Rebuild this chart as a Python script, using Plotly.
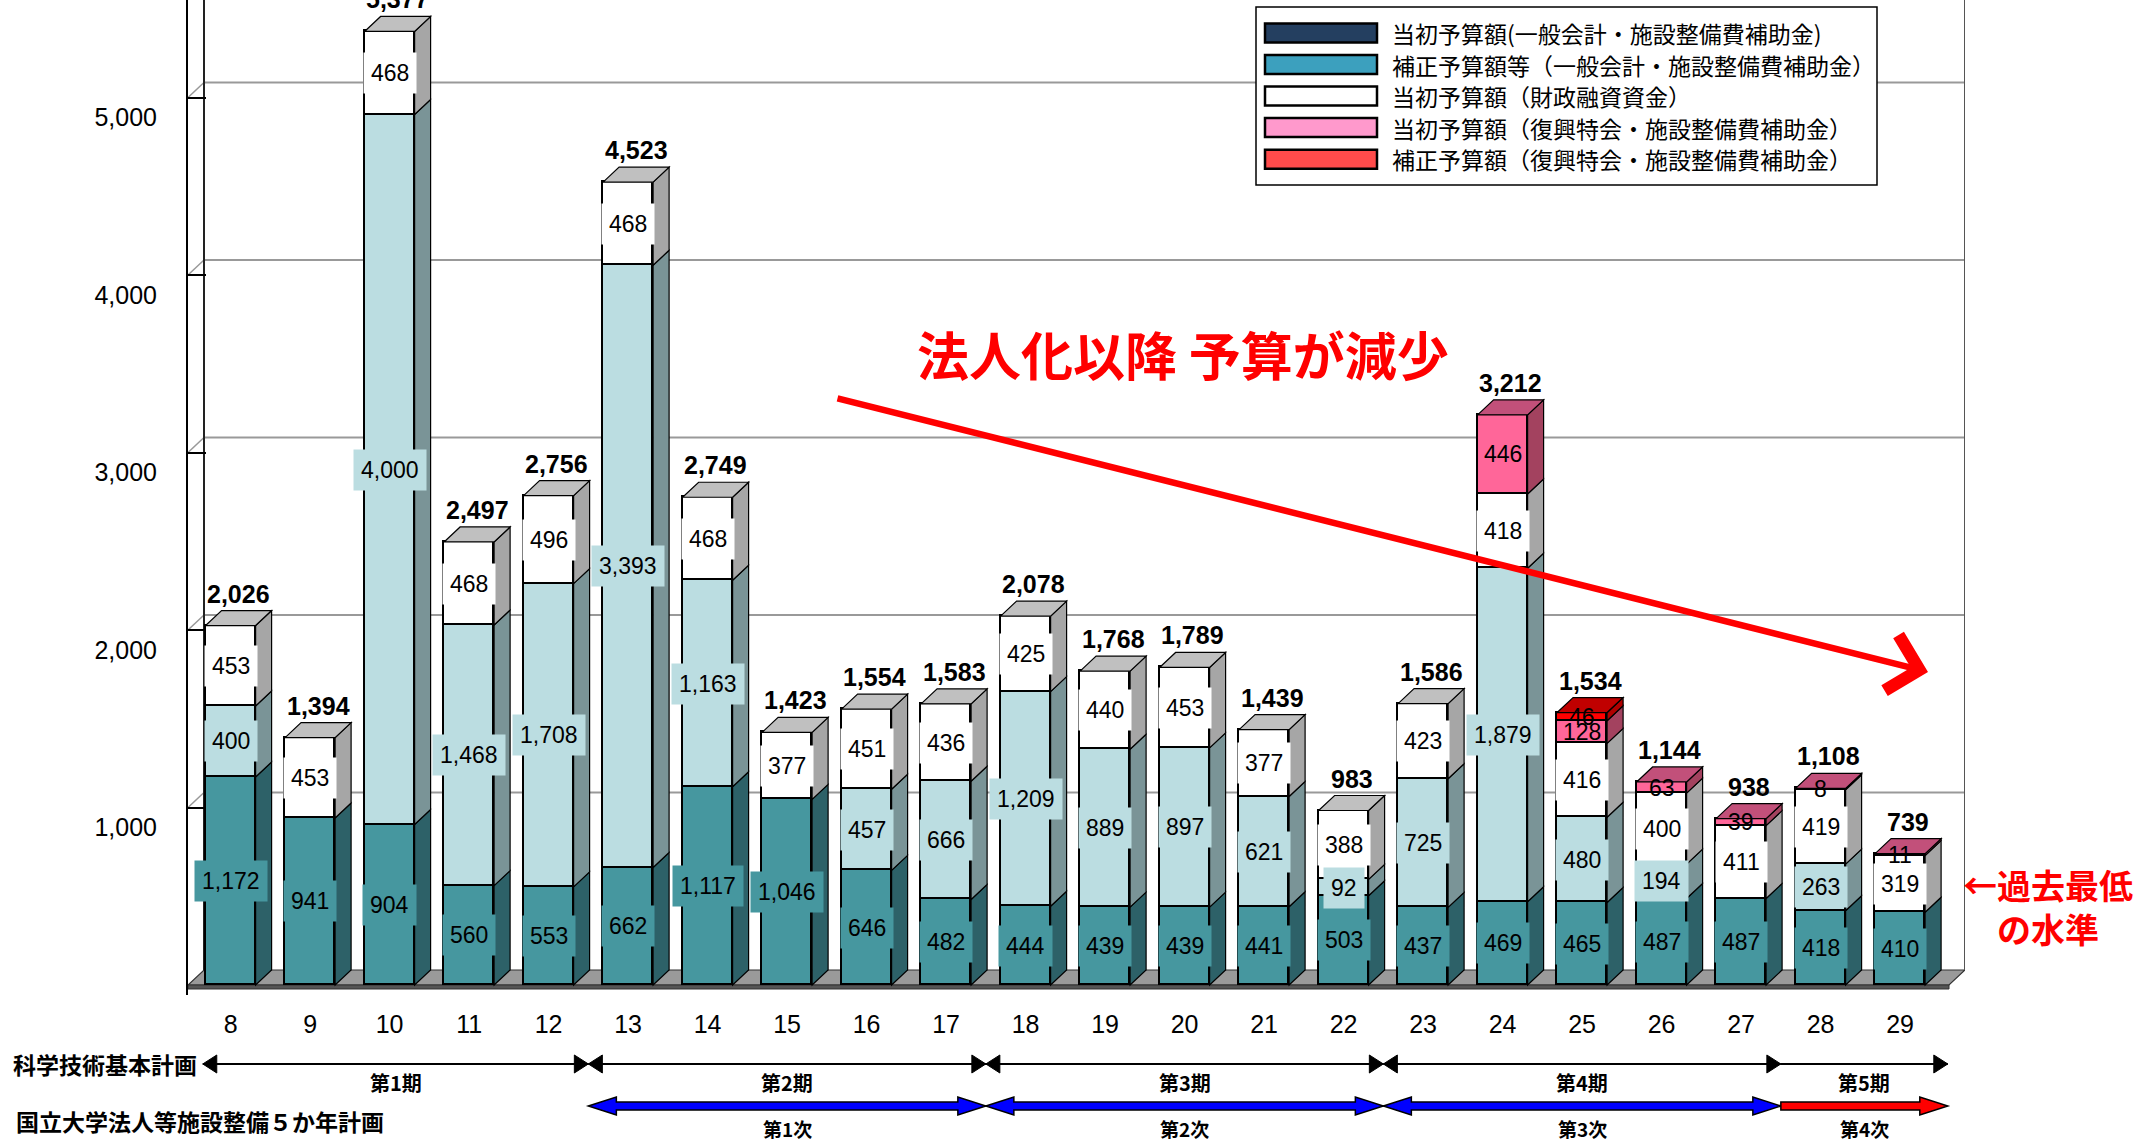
import plotly.graph_objects as go

# ---------------- data ----------------
years = list(range(8, 30))
year_labels = [str(y) for y in years]
initial_general = [1172, 941, 904, 560, 553, 662, 1117, 1046, 646, 482, 444,
                   439, 439, 441, 503, 437, 469, 465, 487, 487, 418, 410]
supplementary_general = [400, 0, 4000, 1468, 1708, 3393, 1163, 0, 457, 666, 1209,
                         889, 897, 621, 92, 725, 1879, 480, 194, 0, 263, 0]
initial_filp = [453, 453, 468, 468, 496, 468, 468, 377, 451, 436, 425,
                440, 453, 377, 388, 423, 418, 416, 400, 411, 419, 319]
initial_recovery = [0] * 16 + [446, 128, 63, 39, 8, 11]
supplementary_recovery = [0] * 17 + [46, 0, 0, 0, 0]
totals = [2026, 1394, 5377, 2497, 2756, 4523, 2749, 1423, 1554, 1583, 2078,
          1768, 1789, 1439, 983, 1586, 3212, 1534, 1144, 938, 1108, 739]
series_names = ["当初予算額(一般会計・施設整備費補助金)",
                "補正予算額等（一般会計・施設整備費補助金）",
                "当初予算額（財政融資資金）",
                "当初予算額（復興特会・施設整備費補助金）",
                "補正予算額（復興特会・施設整備費補助金）"]
y_tick_values = [1000, 2000, 3000, 4000, 5000]
y_tick_labels = ["1,000", "2,000", "3,000", "4,000", "5,000"]
kihon_labels = ["第1期", "第2期", "第3期", "第4期", "第5期"]
kihon_start_years = [8, 13, 18, 23, 28]
gokanen_labels = ["第1次", "第2次", "第3次", "第4次"]
gokanen_start_years = [13, 18, 23, 28]

# ---------------- styles / geometry ----------------
W, H = 2152, 1143
L, R = 188, 1965          # plot area in px
T, B = 0, 995
Z = 985                   # px of value 0 on front plane
C8, S = 230.6, 79.5       # px of first category, px per category
K = 0.1775                # px per unit
DXP, DYP = 16, 15         # 3D depth in px
BARW_PX = 50

xr = [years[0] + (L - C8) / S, years[0] + (R - C8) / S]
yr = [-(B - Z) / K, (Z - T) / K]
dxu = DXP / S
dyu = DYP / K
hw = BARW_PX / S / 2


def xp(px):
    return (px - L) / (R - L)


def yp(py):
    return (B - py) / (B - T)


NUM_FONT = "Liberation Sans, Arial, sans-serif"
JP_FONT = "Noto Sans CJK JP, sans-serif"

styles = [
    dict(front="#46979F", side="#2D6168", top="#3D8088", lbg="#46979F", box=True),
    dict(front="#BBDDE1", side="#7A9497", top="#A9C9CD", lbg="#BBDDE1", box=True),
    dict(front="#FFFFFF", side="#A6A6A6", top="#C0C0C0", lbg="#FFFFFF", box=True),
    dict(front="#FF6699", side="#A3425F", top="#C2507A", lbg=None, box=False),
    dict(front="#FF0000", side="#B00000", top="#C00000", lbg=None, box=False),
]
legend_colors = ["#243F60", "#3CA0BE", "#FFFFFF", "#FF99CC", "#FF4B4B"]
all_series = [initial_general, supplementary_general, initial_filp,
              initial_recovery, supplementary_recovery]

fig = go.Figure()
shapes = []
annotations = []


def path(pts, fill, lc="black", lw=1.2, layer="above", xref="x", yref="y"):
    d = "M " + " L ".join(f"{x:.4f},{y:.4f}" for x, y in pts) + " Z"
    shapes.append(dict(type="path", path=d, fillcolor=fill, xref=xref, yref=yref,
                       line=dict(color=lc, width=lw), layer=layer))


def line(x0, y0, x1, y1, color, width, layer="below", xref="x", yref="y"):
    shapes.append(dict(type="line", x0=x0, y0=y0, x1=x1, y1=y1, xref=xref, yref=yref,
                       line=dict(color=color, width=width), layer=layer))


def text(x, y, s, size, color="black", family=JP_FONT, xref="paper", yref="paper",
         xanchor="center", **kw):
    d = dict(x=x, y=y, xref=xref, yref=yref, text=s, showarrow=False,
             xanchor=xanchor, yanchor=kw.pop("yanchor", "middle"),
             font=dict(family=family, size=size, color=color))
    d.update(kw)
    annotations.append(d)


# ---- walls, floor, gridlines ----
xbl = xr[0] + dxu
path([(xr[0], 0), (xr[1] - dxu, 0), (xr[1], dyu), (xbl, dyu)], "#9A9A9A", "#333333", 1.2, "below")
path([(xr[0], 0), (xr[1] - dxu, 0), (xr[1] - dxu, -4 / K), (xr[0], -4 / K)], "#555555", "#333333", 1, "below")
for t in y_tick_values:
    line(xbl, t + dyu, xr[1], t + dyu, "#999999", 2.2)
    line(xr[0], t, xbl, t + dyu, "#999999", 1.5)
line(xbl, dyu, xbl, yr[1], "#222222", 2)
line(xr[1], dyu, xr[1], yr[1], "#555555", 2)

# ---- bars (front faces) ----
for si, (vals, st) in enumerate(zip(all_series, styles)):
    fig.add_trace(go.Bar(
        x=years, y=[v if v > 0 else None for v in vals], width=2 * hw,
        name=series_names[si], showlegend=False, hoverinfo="skip",
        marker=dict(color=st["front"], line=dict(color="black", width=1.6)),
    ))

# ---- 3D sides / tops and labels ----
for i, yv in enumerate(years):
    base = 0
    top_style = None
    for si, vals in enumerate(all_series):
        v = vals[i]
        if v <= 0:
            continue
        st = styles[si]
        y0, y1 = base, base + v
        xr_ = yv + hw
        path([(xr_, y0), (xr_ + dxu, y0 + dyu), (xr_ + dxu, y1 + dyu), (xr_, y1)], st["side"])
        extra = dict(bgcolor=st["lbg"], borderpad=7) if st["box"] else {}
        text(yv, (y0 + y1) / 2, f"{v:,}", 23, family=NUM_FONT, xref="x", yref="y", **extra)
        base = y1
        top_style = st
    path([(yv - hw, base), (yv - hw + dxu, base + dyu), (yv + hw + dxu, base + dyu), (yv + hw, base)],
         top_style["top"])
    text(yv + 8 / S, base, f"<b>{totals[i]:,}</b>", 25, family=NUM_FONT, xref="x", yref="y",
         yanchor="bottom", yshift=DYP + 1)

# ---- big red message and arrow ----
text(xp(1183), yp(354), "<b>法人化以降 予算が減少</b>", 52, color="#FF0000")
annotations.append(dict(x=years[0] + (1928 - C8) / S, y=(Z - 672) / K, xref="x", yref="y",
                        ax=836 - 1928, ay=398 - 672, showarrow=True, arrowhead=4,
                        arrowsize=1.7, arrowwidth=6.5, arrowcolor="#FF0000", text=""))
text(xp(2048), yp(906), "<b>←過去最低<br>の水準</b>", 34, color="#FF0000", align="center")

# ---- legend (custom) ----
shapes.append(dict(type="rect", xref="paper", yref="paper", x0=xp(1256), x1=xp(1877),
                   y0=yp(185), y1=yp(7), line=dict(color="black", width=1.5), fillcolor="white"))
row_y = [33, 64.5, 96, 127.6, 159.2]
for name, col, ry in zip(series_names, legend_colors, row_y):
    shapes.append(dict(type="rect", xref="paper", yref="paper", x0=xp(1265), x1=xp(1377),
                       y0=yp(ry + 9.5), y1=yp(ry - 9.5), fillcolor=col,
                       line=dict(color="black", width=2.5)))
    text(xp(1390), yp(ry), name, 23, xanchor="left")

# ---- bottom timelines ----
text(xp(11), yp(1064), "<b>科学技術基本計画</b>", 23, xanchor="left")
text(xp(14), yp(1121), "<b>国立大学法人等施設整備５か年計画</b>", 23, xanchor="left")

end_x = years[-1] + 0.6
kb = [s_ - 0.5 for s_ in kihon_start_years] + [end_x]
kb[0] += 0.15
ky = 1064
HL, HH = 14, 9
for j, lab in enumerate(kihon_labels):
    a, b = kb[j], kb[j + 1]
    left_head = j < len(kihon_labels) - 1
    line(a, yp(ky), b, yp(ky), "black", 2, "above", "x", "paper")
    path([(b, yp(ky)), (b - HL / S, yp(ky - HH)), (b - HL / S, yp(ky + HH))], "black", "black", 1,
         "above", "x", "paper")
    if left_head:
        path([(a, yp(ky)), (a + HL / S, yp(ky - HH)), (a + HL / S, yp(ky + HH))], "black", "black", 1,
             "above", "x", "paper")
    text((a + b) / 2, yp(1082), f"<b>{lab}</b>", 20, xref="x")

gb = [s_ - 0.5 for s_ in gokanen_start_years] + [end_x]
gy = 1106
BHL, BHH, BT = 28, 9, 4
for j, lab in enumerate(gokanen_labels):
    a, b = gb[j], gb[j + 1]
    last = j == len(gokanen_labels) - 1
    col = "#FF0000" if last else "#0000FF"
    hl = BHL / S
    if last:
        pts = [(a, yp(gy - BT)), (b - hl, yp(gy - BT)), (b - hl, yp(gy - BHH)), (b, yp(gy)),
               (b - hl, yp(gy + BHH)), (b - hl, yp(gy + BT)), (a, yp(gy + BT))]
    else:
        pts = [(a, yp(gy)), (a + hl, yp(gy - BHH)), (a + hl, yp(gy - BT)), (b - hl, yp(gy - BT)),
               (b - hl, yp(gy - BHH)), (b, yp(gy)), (b - hl, yp(gy + BHH)), (b - hl, yp(gy + BT)),
               (a + hl, yp(gy + BT)), (a + hl, yp(gy + BHH))]
    path(pts, col, "black", 1.5, "above", "x", "paper")
    text((a + b) / 2, yp(1128), f"<b>{lab}</b>", 19, xref="x")

fig.update_layout(
    width=W, height=H, autosize=False,
    margin=dict(l=L, r=W - R, t=T, b=H - B, pad=0),
    paper_bgcolor="white", plot_bgcolor="white",
    barmode="stack", bargap=0,
    showlegend=False,
    xaxis=dict(range=xr, tickvals=years, ticktext=year_labels, showgrid=False, zeroline=False,
               showline=False, ticks="", ticklabelstandoff=12,
               tickfont=dict(family=NUM_FONT, size=25, color="black")),
    yaxis=dict(range=yr, tickvals=y_tick_values, ticktext=y_tick_labels, showgrid=False,
               zeroline=False, showline=True, linecolor="black", linewidth=2,
               ticks="inside", ticklen=DXP + 2, tickwidth=1.5, tickcolor="black",
               ticklabelstandoff=24, ticklabelshift=20,
               tickfont=dict(family=NUM_FONT, size=25, color="black")),
    shapes=shapes, annotations=annotations,
)

fig.write_html("out.html")
